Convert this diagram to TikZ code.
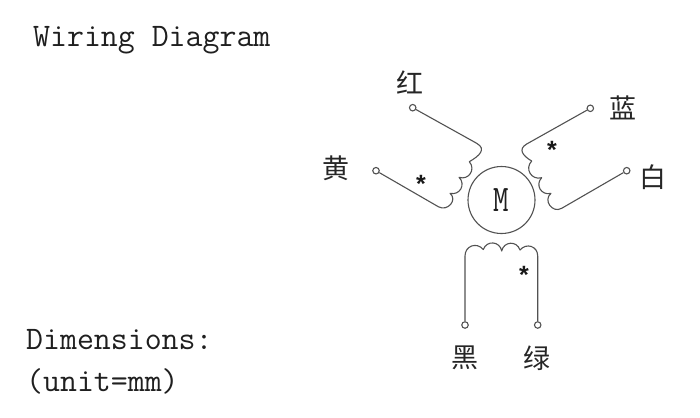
\documentclass[tikz,border=0pt]{standalone}
\usepackage{fontspec}
\newfontfamily\cjk{Noto Sans CJK SC}
\newfontfamily\starfont{Liberation Sans}
\tikzset{
  wire/.style={draw=black!68,line width=1.1pt,line join=round},
  term/.style={circle,draw=black!68,line width=1.1pt,fill=white,inner sep=0pt,minimum size=6.5pt},
  cn/.style={font=\cjk\fontsize{27}{27}\selectfont,text=black!85,inner sep=0pt},
  head/.style={font=\ttfamily\fontsize{32.9}{32.9}\selectfont,text=black!88,inner sep=0pt,anchor=base west},
  starm/.style={font=\starfont\bfseries\fontsize{25}{25}\selectfont,text=black!90,inner sep=0pt},
  hump/.style={looseness=1.4}
}
\begin{document}
\begin{tikzpicture}[x=1pt,y=1pt]
\useasboundingbox (0,0) rectangle (700,-417);
\node[head] (title) at (33,-47) {Wiring Diagram};
\node[head] (dim) at (26,-349) {Dimensions:};
\node[head] (unit) at (26,-391) {(unit=mm)};
% motor
\node[circle,draw=black!68,line width=1.1pt,minimum size=67pt,inner sep=0pt,
      font=\ttfamily\fontsize{30}{30}\selectfont,text=black!88] (motor) at (501.5,-200) {\scalebox{1}[1.25]{M}};
% terminals
\node[term] (tr) at (412.7,-107.7) {};
\node[term] (ty) at (376,-170.7) {};
\node[term] (tb) at (590.3,-108.3) {};
\node[term] (tw) at (626.7,-170.7) {};
\node[term] (tk) at (465,-325) {};
\node[term] (tg) at (537.7,-325) {};
% labels
\node[cn] (lr) at (410,-82) {\cjk 红};
\node[cn] (ly) at (336,-168) {\cjk 黄};
\node[cn] (lb) at (623,-108) {\cjk 蓝};
\node[cn] (lw) at (653,-177) {\cjk 白};
\node[cn] (lk) at (465,-358) {\cjk 黑};
\node[cn] (lg) at (537,-358) {\cjk 绿};
% stars
\node[starm] (s1) at (421,-184) {*};
\node[starm] (s2) at (552,-150) {*};
\node[starm] (s3) at (524,-275) {*};
% left coil
\coordinate (a0) at (476.7,-143.3);
\coordinate (a1) at (469.3,-161.7);
\coordinate (a2) at (459,-177.3);
\coordinate (a3) at (450,-193.3);
\coordinate (a4) at (438.3,-206.7);
\draw[wire] (tr) -- (a0) to[out=-30,in=30,looseness=1.5] (a1)
  to[bend left=75,hump] (a2) to[bend left=75,hump] (a3)
  to[out=-40,in=-30,looseness=1.5] (a4) -- (ty);
% right coil
\coordinate (b0) at (526.7,-144);
\coordinate (b1) at (531.7,-161);
\coordinate (b2) at (541.7,-177.7);
\coordinate (b3) at (551,-193.3);
\coordinate (b4) at (561.7,-208.3);
\draw[wire] (tb) -- (b0) to[out=210,in=150,looseness=1.5] (b1)
  to[bend right=75,hump] (b2) to[bend right=75,hump] (b3)
  to[out=220,in=210,looseness=1.5] (b4) -- (tw);
% bottom coil
\coordinate (c0) at (465,-256);
\coordinate (c1) at (483.3,-249.5);
\coordinate (c2) at (501.7,-251);
\coordinate (c3) at (520,-250);
\coordinate (c4) at (537.7,-256);
\draw[wire] (tk) -- (c0) to[out=90,in=130,looseness=1.35] (c1)
  to[bend left=75,hump] (c2) to[bend left=75,hump] (c3)
  to[out=50,in=90,looseness=1.35] (c4) -- (tg);
\end{tikzpicture}
\end{document}
